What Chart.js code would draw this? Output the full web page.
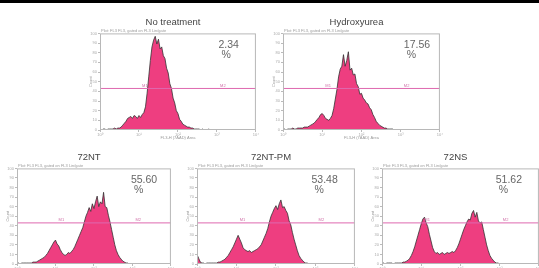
<!DOCTYPE html>
<html>
<head>
<meta charset="utf-8">
<script src="https://cdn.jsdelivr.net/npm/chart.js@4/dist/chart.umd.min.js"></script>
<style>
  html, body { margin: 0; padding: 0; background: #fff; width: 539px; height: 268px; overflow: hidden; }
  #topRule { position: absolute; left: 0; top: 0; width: 539px; height: 3px; background: #000; }
  canvas { position: absolute; }
</style>
</head>
<body>
<div id="topRule"></div>
<canvas id="c0"></canvas>
<canvas id="c1"></canvas>
<canvas id="c2"></canvas>
<canvas id="c3"></canvas>
<canvas id="c4"></canvas>
<script>
// histogram bins: 96 channels over four log decades
const binCount = 96;
const xTickLabels = ['10⁰', '10¹', '10²', '10³', '10⁴'];
const panelTitles = ['No treatment', 'Hydroxyurea', '72NT', '72NT-PM', '72NS'];
const percentValues = ['2.34', '17.56', '55.60', '53.48', '51.62'];
const gateLevels = [43, 43, 43, 43, 43];

const noTreatment = [
  1, 0, 1, 1, 0, 1, 1, 1, 1, 2, 1, 2,
  2, 3, 5, 7, 9, 12, 13, 14, 12, 15, 14, 12, 15, 13, 16, 18,
  24, 38, 55, 72, 86, 93, 97, 89, 94, 84, 86, 77, 74, 64, 59, 48, 43, 33, 28, 20, 17,
  11, 9, 6, 5, 4, 3, 3, 2, 2, 1, 1, 1, 1, 0, 1, 0, 0, 0, 1, 0, 0
];
const hydroxyurea = [
  1, 1, 0, 1, 1, 1, 2, 1, 1, 2,
  2, 2, 2, 3, 3, 3, 4, 5, 6, 7,
  9, 11, 13, 16, 17, 15, 12, 11, 10, 12,
  15, 22, 32, 42, 55, 63, 66, 78, 66, 72,
  81, 62, 64, 57, 58, 48, 45, 37, 38, 33,
  31, 28, 27, 23, 21, 16, 13, 9, 7, 5,
  4, 3, 2, 2, 1, 1, 1, 1, 0, 0
];
const nt72 = [
  1, 1, 0, 1, 1, 1, 1, 1, 1, 1,
  2, 2, 2, 3, 4, 5, 6, 7, 9, 11,
  14, 17, 20, 23, 25, 21, 19, 15, 12, 10,
  9, 10, 12, 11, 13, 15, 18, 22, 26, 30,
  34, 38, 44, 50, 54, 59, 55, 63, 58, 65,
  71, 60, 65, 63, 75, 60, 59, 51, 44, 36,
  28, 20, 14, 10, 7, 5, 3, 2, 1, 1, 0
];
const ntpm72 = [
  10, 6, 2, 1, 1, 0, 1, 1, 1, 1,
  1, 1, 1, 2, 2, 3, 4, 5, 7, 9,
  12, 15, 18, 22, 26, 30, 26, 22, 17, 15,
  14, 13, 14, 12, 13, 14, 15, 16, 18, 20,
  24, 28, 32, 37, 44, 50, 54, 58, 61, 57,
  63, 67, 59, 60, 56, 53, 45, 41, 33, 26,
  20, 14, 9, 6, 4, 2, 1, 1, 0, 0
];
const ns72 = [
  1, 1, 0, 1, 1, 1, 1, 0, 1, 1,
  1, 1, 1, 2, 2, 3, 4, 6, 9, 13,
  18, 24, 30, 36, 42, 47, 49, 43, 39, 31,
  24, 17, 13, 11, 12, 10, 11, 12, 10, 11,
  12, 11, 12, 13, 12, 14, 17, 21, 26, 31,
  36, 40, 44, 47, 46, 53, 56, 49, 54, 45,
  43, 44, 36, 28, 20, 14, 9, 6, 4, 2,
  1, 1, 0
];
const panelSeries = [noTreatment, hydroxyurea, nt72, ntpm72, ns72];

// canvas placement (left, top, width, height) and where the % label sits
const panelBoxes = [
  [88, 17, 171, 123],
  [271, 17, 172, 123],
  [5, 152, 169, 122],
  [185, 152, 173, 122],
  [370, 152, 172, 122]
];
const pctPos = [0.76, 0.77, 0.74, 0.725, 0.725];

Chart.defaults.font.family = '"Liberation Sans", Arial, sans-serif';

const panelText = {
  id: 'panelText',
  afterDraw(chart, args, opts) {
    const {ctx, chartArea: a} = chart;
    const w = a.right - a.left;
    ctx.save();
    ctx.strokeStyle = '#b8b8b8';
    ctx.lineWidth = 1;
    ctx.strokeRect(a.left + 0.5, a.top + 0.5, w - 1, a.bottom - a.top - 1);

    ctx.fillStyle = '#9a9a9a';
    ctx.font = '4px "Liberation Sans"';
    ctx.textBaseline = 'bottom';
    ctx.fillText('Plot: FL3 FL3, gated on FL3 Lin/gate', a.left + 1, a.top - 1);

    ctx.fillStyle = '#666';
    ctx.font = '10.5px "Liberation Sans"';
    ctx.textBaseline = 'top';
    const px = a.left + opts.pos * w;
    ctx.fillText(opts.pct, px, a.top + 6);
    ctx.fillText('%', px + 3, a.top + 16);

    const gy = chart.scales.y.getPixelForValue(opts.gate);
    ctx.fillStyle = '#d070a8';
    ctx.font = '4px "Liberation Sans"';
    ctx.textBaseline = 'bottom';
    ctx.fillText('M1', a.left + 0.27 * w, gy - 1);
    ctx.fillText('M2', a.left + 0.77 * w, gy - 1);
    ctx.restore();
  }
};

panelSeries.forEach((values, i) => {
  const box = panelBoxes[i];
  const cv = document.getElementById('c' + i);
  cv.style.left = box[0] + 'px';
  cv.style.top = box[1] + 'px';
  cv.width = box[2];
  cv.height = box[3];

  new Chart(cv.getContext('2d'), {
    type: 'line',
    data: {
      datasets: [{
        data: [{x: 0, y: gateLevels[i]}, {x: binCount, y: gateLevels[i]}],
        borderColor: 'rgb(222, 105, 175)',
        borderWidth: 1,
        pointRadius: 0,
        fill: false,
        order: 0
      }, {
        data: values.map((v, b) => ({x: b, y: v})),
        borderColor: '#333',
        borderWidth: 0.8,
        backgroundColor: 'rgb(238, 62, 128)',
        fill: 'origin',
        pointRadius: 0,
        tension: 0,
        order: 1
      }]
    },
    options: {
      responsive: false,
      animation: false,
      layout: {padding: {left: 0, right: 1, top: 0, bottom: 0}},
      scales: {
        x: {
          type: 'linear',
          min: 0,
          max: binCount,
          afterFit: s => { s.height = 10; },
          grid: {drawOnChartArea: false, tickLength: 2, color: '#bbb'},
          border: {display: false},
          ticks: {
            stepSize: 24,
            maxRotation: 0,
            padding: 0,
            color: '#aaa',
            font: {size: 4},
            callback: v => xTickLabels[v / 24]
          },
          title: {display: true, text: 'FL3-H (7AAD) Area', color: '#999', font: {size: 4}, padding: 0}
        },
        y: {
          min: 0,
          max: 100,
          afterFit: s => { s.width = 12; },
          grid: {drawOnChartArea: false, tickLength: 2, color: '#bbb'},
          border: {display: false},
          ticks: {stepSize: 10, padding: 1, color: '#aaa', font: {size: 4}},
          title: {display: true, text: 'Count', color: '#999', font: {size: 4}, padding: 0}
        }
      },
      plugins: {
        legend: {display: false},
        tooltip: {enabled: false},
        title: {
          display: true,
          text: panelTitles[i],
          color: '#444',
          font: {size: 9.5, weight: 'normal'},
          padding: {top: 0, bottom: 5}
        },
        panelText: {pct: percentValues[i], pos: pctPos[i], gate: gateLevels[i]}
      }
    },
    plugins: [panelText]
  });
});
</script>
</body>
</html>
